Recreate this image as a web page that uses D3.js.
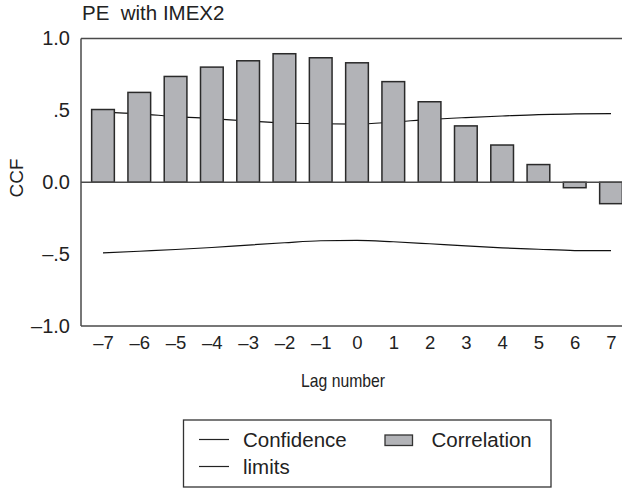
<!DOCTYPE html>
<html>
<head>
<meta charset="utf-8">
<script src="https://cdn.jsdelivr.net/npm/d3@7"></script>
<style>
  body { margin: 0; background: #fff; }
  text { font-family: "Liberation Sans", Arial, sans-serif; fill: #222; }
</style>
</head>
<body>
<svg width="622" height="489"></svg>
<script>
// lag numbers and cross correlations
const lags = [-7, -6, -5, -4, -3, -2, -1, 0, 1, 2, 3, 4, 5, 6, 7];
const ccf = [0.506, 0.625, 0.736, 0.801, 0.845, 0.894, 0.866, 0.831, 0.700, 0.560, 0.392, 0.259, 0.123, -0.038, -0.149];
const upperLimit = [0.488, 0.476, 0.457, 0.443, 0.426, 0.412, 0.407, 0.405, 0.419, 0.437, 0.450, 0.461, 0.471, 0.475, 0.477];
const lowerLimit = [-0.492, -0.480, -0.468, -0.454, -0.437, -0.421, -0.407, -0.404, -0.414, -0.428, -0.443, -0.456, -0.466, -0.475, -0.476];
const yTicks = [1, 0.5, 0, -0.5, -1];
const yTickLabels = ["1.0", ".5", "0.0", "\u2013.5", "\u20131.0"];

const svg = d3.select("svg");
const plotLeft = 81, plotTop = 38.5, plotBottom = 326, plotRight = 622;

const x = d3.scaleLinear().domain([-7, 7]).range([103, 611]);
const y = d3.scaleLinear().domain([-1, 1]).range([plotBottom, plotTop]);
const barW = 22.7;

// title
svg.append("text").attr("x", 82).attr("y", 20)
  .style("font-size", "20.5px").style("white-space", "pre")
  .text("PE  with IMEX2");

// confidence limits (behind the bars)
const line = d3.line()
  .x((d, i) => x(lags[i]))
  .y(d => y(d))
  .curve(d3.curveMonotoneX);
[upperLimit, lowerLimit].forEach(arr => {
  svg.append("path")
    .attr("d", line(arr))
    .attr("fill", "none")
    .attr("stroke", "#111")
    .attr("stroke-width", 1.2);
});

// bars
svg.append("g").selectAll("rect")
  .data(ccf)
  .join("rect")
  .attr("x", (d, i) => x(lags[i]) - barW / 2)
  .attr("y", d => y(Math.max(0, d)))
  .attr("width", barW)
  .attr("height", d => Math.abs(y(d) - y(0)))
  .attr("fill", "#b2b3b7")
  .attr("stroke", "#2a2a2a")
  .attr("stroke-width", 1.5);

// frame: left, top, bottom and zero line
const frame = svg.append("g").attr("stroke", "#4a4a4a").attr("stroke-width", 1.5);
frame.append("line").attr("x1", plotLeft).attr("x2", plotLeft).attr("y1", plotTop).attr("y2", plotBottom);
frame.append("line").attr("x1", plotLeft).attr("x2", plotRight).attr("y1", plotTop).attr("y2", plotTop);
frame.append("line").attr("x1", plotLeft).attr("x2", plotRight).attr("y1", plotBottom).attr("y2", plotBottom);
frame.append("line").attr("x1", plotLeft).attr("x2", plotRight).attr("y1", y(0)).attr("y2", y(0));

// y axis labels
const yAxis = d3.axisLeft(y)
  .tickValues(yTicks)
  .tickSize(0)
  .tickPadding(11)
  .tickFormat((d, i) => yTickLabels[i]);
const gy = svg.append("g").attr("transform", `translate(${plotLeft},0)`).call(yAxis);
gy.select(".domain").remove();
gy.selectAll("text").style("font-size", "20px").attr("fill", "#222");

// x axis labels
const xAxis = d3.axisBottom(x)
  .tickValues(lags)
  .tickSize(0)
  .tickPadding(10)
  .tickFormat(d => d < 0 ? "\u2013" + Math.abs(d) : String(d));
const gx = svg.append("g").attr("transform", `translate(0,${plotBottom})`).call(xAxis);
gx.select(".domain").remove();
gx.selectAll("text").style("font-size", "18.5px").attr("fill", "#222");

// axis titles
svg.append("text").attr("x", 343).attr("y", 387)
  .attr("text-anchor", "middle").style("font-size", "19px")
  .attr("textLength", 84).attr("lengthAdjust", "spacingAndGlyphs")
  .text("Lag number");
svg.append("text")
  .attr("transform", "translate(23,178) rotate(-90)")
  .attr("text-anchor", "middle").style("font-size", "19px")
  .text("CCF");

// legend
const lg = svg.append("g");
lg.append("rect").attr("x", 183.5).attr("y", 420).attr("width", 367.5).attr("height", 67)
  .attr("fill", "none").attr("stroke", "#333").attr("stroke-width", 1.3);
[439.5, 466.5].forEach(ly => {
  lg.append("line").attr("x1", 199).attr("x2", 229).attr("y1", ly).attr("y2", ly)
    .attr("stroke", "#222").attr("stroke-width", 1.2);
});
lg.append("text").attr("x", 243).attr("y", 446.5).style("font-size", "20.5px").text("Confidence");
lg.append("text").attr("x", 243).attr("y", 474).style("font-size", "20.5px").text("limits");
lg.append("rect").attr("x", 385).attr("y", 435).attr("width", 27.5).attr("height", 10.5)
  .attr("fill", "#b2b3b7").attr("stroke", "#333").attr("stroke-width", 1.3);
lg.append("text").attr("x", 431.5).attr("y", 446.5).style("font-size", "20.5px").text("Correlation");
</script>
</body>
</html>
